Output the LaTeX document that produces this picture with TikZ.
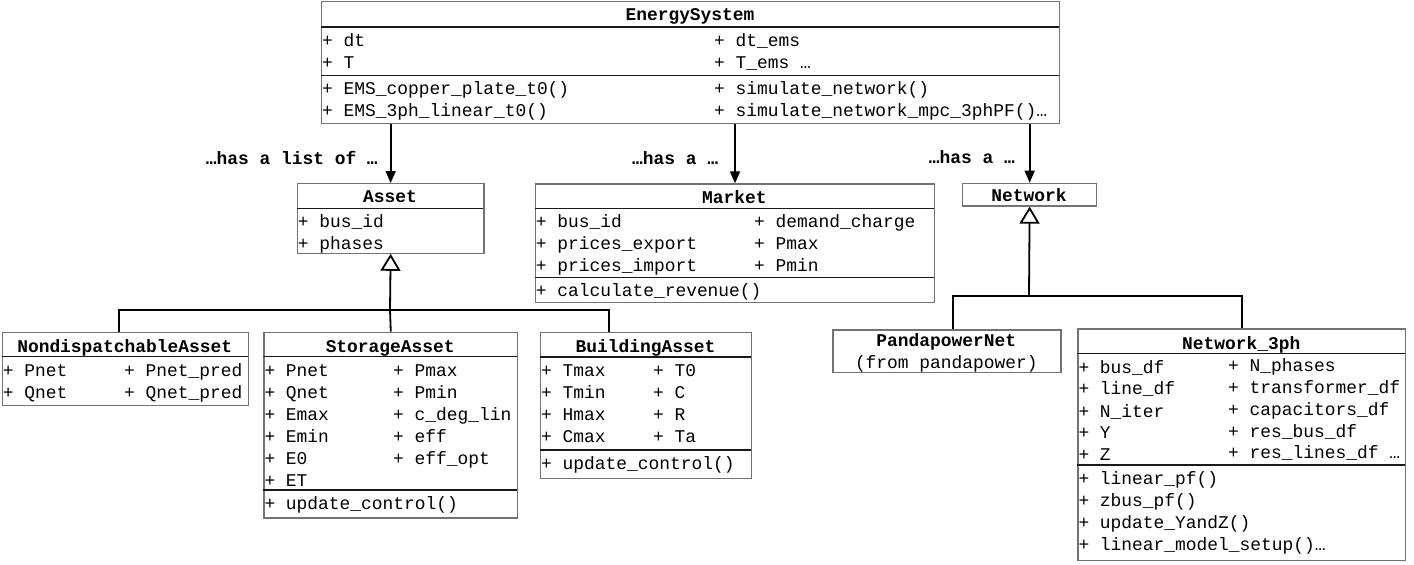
\documentclass[tikz,border=0pt]{standalone}
\usepackage{fontspec}
\setmonofont{Liberation Mono}
\usepackage{tikz}
\usetikzlibrary{arrows.meta,positioning}

\newcommand\umlfont{\ttfamily\fontsize{17.9}{22}\selectfont}

\tikzset{
  cls/.style={draw=black!55, line width=1.3pt, fill=white, anchor=north west, inner sep=0pt},
  sep/.style={draw=black!90, line width=1.3pt},
  txt/.style={anchor=base west, inner sep=0pt, font=\umlfont},
  ttl/.style={anchor=base, inner sep=0pt, font=\umlfont\bfseries},
  lbl/.style={inner sep=0pt, font=\umlfont\bfseries},
  has/.style={line width=1.8pt, -{Triangle[length=12pt,width=10pt]}},
  inh/.style={line width=1.8pt, -{Triangle[open,length=17pt,width=20pt,fill=white]}},
  link/.style={line width=1.8pt}
}

\begin{document}
\begin{tikzpicture}[x=1pt,y=-1pt]
  \useasboundingbox (0,0) rectangle (1414,565);

  % EnergySystem
  \node[cls, minimum width=738pt, minimum height=122pt] (es) at (321,1) {};
  \node[ttl] (es-t) at (690,20.5) {EnergySystem};
  \draw[sep] (321,27) -- (1059,27);
  \draw[sep] (321,75.3) -- (1059,75.3);
  \node[txt] (es-a1) at (322,46.5) {+ dt};
  \node[txt] (es-a2) at (322,68) {+ T};
  \node[txt] (es-a3) at (714,46.5) {+ dt\_ems};
  \node[txt] (es-a4) at (714,68) {+ T\_ems …};
  \node[txt] (es-m1) at (322,94.8) {+ EMS\_copper\_plate\_t0()};
  \node[txt] (es-m2) at (322,116.2) {+ EMS\_3ph\_linear\_t0()};
  \node[txt] (es-m3) at (714,94.8) {+ simulate\_network()};
  \node[txt] (es-m4) at (714,116.2) {+ simulate\_network\_mpc\_3phPF()…};

  % Asset
  \node[cls, minimum width=186.6pt, minimum height=69.5pt] (asset) at (296.7,183) {};
  \node[ttl] (asset-t) at (390,202.5) {Asset};
  \draw[sep] (296.7,208.3) -- (483.3,208.3);
  \node[txt] (asset-a1) at (297.7,227.5) {+ bus\_id};
  \node[txt] (asset-a2) at (297.7,249.5) {+ phases};

  % Market
  \node[cls, minimum width=399.3pt, minimum height=118.5pt] (mk) at (534.7,183.3) {};
  \node[ttl] (mk-t) at (734.3,203.2) {Market};
  \draw[sep] (534.7,208.3) -- (934,208.3);
  \draw[sep] (534.7,277.7) -- (934,277.7);
  \node[txt] (mk-a1) at (535.7,227.2) {+ bus\_id};
  \node[txt] (mk-a2) at (535.7,249.5) {+ prices\_export};
  \node[txt] (mk-a3) at (535.7,271.2) {+ prices\_import};
  \node[txt] (mk-a4) at (754,227.2) {+ demand\_charge};
  \node[txt] (mk-a5) at (754,249.5) {+ Pmax};
  \node[txt] (mk-a6) at (754,271.2) {+ Pmin};
  \node[txt] (mk-m1) at (535.7,296.5) {+ calculate\_revenue()};

  % Network
  \node[cls, minimum width=134pt, minimum height=22.6pt] (nw) at (962,182.7) {};
  \node[ttl] (nw-t) at (1029,201.2) {Network};

  % NondispatchableAsset
  \node[cls, minimum width=246pt, minimum height=73.3pt] (nd) at (1.7,331.7) {};
  \node[ttl] (nd-t) at (124.7,352.2) {NondispatchableAsset};
  \draw[sep] (1.7,356.7) -- (247.7,356.7);
  \node[txt] (nd-a1) at (2.7,376.5) {+ Pnet};
  \node[txt] (nd-a2) at (2.7,398.5) {+ Qnet};
  \node[txt] (nd-a3) at (124,376.5) {+ Pnet\_pred};
  \node[txt] (nd-a4) at (124,398.5) {+ Qnet\_pred};

  % StorageAsset
  \node[cls, minimum width=253.7pt, minimum height=185.6pt] (st) at (263.3,331.7) {};
  \node[ttl] (st-t) at (390.2,352.2) {StorageAsset};
  \draw[sep] (263.3,356.7) -- (517,356.7);
  \draw[sep] (263.3,490) -- (517,490);
  \node[txt] (st-a1) at (264.3,376.5) {+ Pnet};
  \node[txt] (st-a2) at (264.3,398.5) {+ Qnet};
  \node[txt] (st-a3) at (264.3,420.5) {+ Emax};
  \node[txt] (st-a4) at (264.3,442.5) {+ Emin};
  \node[txt] (st-a5) at (264.3,464.5) {+ E0};
  \node[txt] (st-a6) at (264.3,486.5) {+ ET};
  \node[txt] (st-a7) at (393,376.5) {+ Pmax};
  \node[txt] (st-a8) at (393,398.5) {+ Pmin};
  \node[txt] (st-a9) at (393,420.5) {+ c\_deg\_lin};
  \node[txt] (st-a10) at (393,442.5) {+ eff};
  \node[txt] (st-a11) at (393,464.5) {+ eff\_opt};
  \node[txt] (st-m1) at (264.3,509.5) {+ update\_control()};

  % BuildingAsset
  \node[cls, minimum width=211pt, minimum height=145.8pt] (bd) at (540,331.7) {};
  \node[ttl] (bd-t) at (645.5,352.2) {BuildingAsset};
  \draw[sep] (540,357) -- (751,357);
  \draw[sep] (540,450) -- (751,450);
  \node[txt] (bd-a1) at (541,376.5) {+ Tmax};
  \node[txt] (bd-a2) at (541,398.2) {+ Tmin};
  \node[txt] (bd-a3) at (541,420.5) {+ Hmax};
  \node[txt] (bd-a4) at (541,442.2) {+ Cmax};
  \node[txt] (bd-a5) at (653,376.5) {+ T0};
  \node[txt] (bd-a6) at (653,398.2) {+ C};
  \node[txt] (bd-a7) at (653,420.5) {+ R};
  \node[txt] (bd-a8) at (653,442.2) {+ Ta};
  \node[txt] (bd-m1) at (541,469.5) {+ update\_control()};

  % PandapowerNet
  \node[cls, minimum width=228pt, minimum height=42.4pt] (pp) at (832.3,329.3) {};
  \node[ttl] (pp-t) at (946.3,346.5) {PandapowerNet};
  \node[txt, anchor=base] (pp-s) at (946.3,368.8) {(from pandapower)};

  % Network_3ph
  \node[cls, minimum width=327.7pt, minimum height=231.7pt] (n3) at (1077.3,328.3) {};
  \node[ttl] (n3-t) at (1241.2,349.5) {Network\_3ph};
  \draw[sep] (1077.3,353.3) -- (1405,353.3);
  \draw[sep] (1077.3,465) -- (1405,465);
  \node[txt] (n3-a1) at (1078.3,373.2) {+ bus\_df};
  \node[txt] (n3-a2) at (1078.3,394.8) {+ line\_df};
  \node[txt] (n3-a3) at (1078.3,417.2) {+ N\_iter};
  \node[txt] (n3-a4) at (1078.3,438.8) {+ Y};
  \node[txt] (n3-a5) at (1078.3,460.5) {+ Z};
  \node[txt] (n3-a6) at (1228,371.5) {+ N\_phases};
  \node[txt] (n3-a7) at (1228,393.2) {+ transformer\_df};
  \node[txt] (n3-a8) at (1228,415.5) {+ capacitors\_df};
  \node[txt] (n3-a9) at (1228,437.2) {+ res\_bus\_df};
  \node[txt] (n3-a10) at (1228,458.8) {+ res\_lines\_df …};
  \node[txt] (n3-m1) at (1078.3,484.8) {+ linear\_pf()};
  \node[txt] (n3-m2) at (1078.3,506.5) {+ zbus\_pf()};
  \node[txt] (n3-m3) at (1078.3,528.8) {+ update\_YandZ()};
  \node[txt] (n3-m4) at (1078.3,550.5) {+ linear\_model\_setup()…};

  % associations
  \draw[has] (es.south -| asset.north) -- node[lbl, left=12pt, yshift=-4pt] {…has a list of …} (asset.north);
  \draw[has] (es.south -| mk.north) -- node[lbl, left=16pt, yshift=-4pt] {…has a …} (mk.north);
  \draw[has] (es.south -| nw.north) -- node[lbl, left=14pt, yshift=-4pt] {…has a …} (nw.north);

  % inheritance
  \coordinate (abus) at (390,310);
  \coordinate (abl) at (119,310);
  \coordinate (abr) at (609.3,310);
  \draw[inh] (abus) -- (asset.south);
  \draw[link] (nd.north -| abl) -- (abl) -- (abr) -- (bd.north -| abr);
  \draw[link] (st.north) -- (abus);

  \coordinate (nbus) at (1029,295.7);
  \coordinate (nbl) at (953.3,295.7);
  \draw[inh] (nbus) -- (nw.south);
  \draw[link] (pp.north -| nbl) -- (nbl) -- (n3.north |- nbus) -- (n3.north);

\end{tikzpicture}
\end{document}
